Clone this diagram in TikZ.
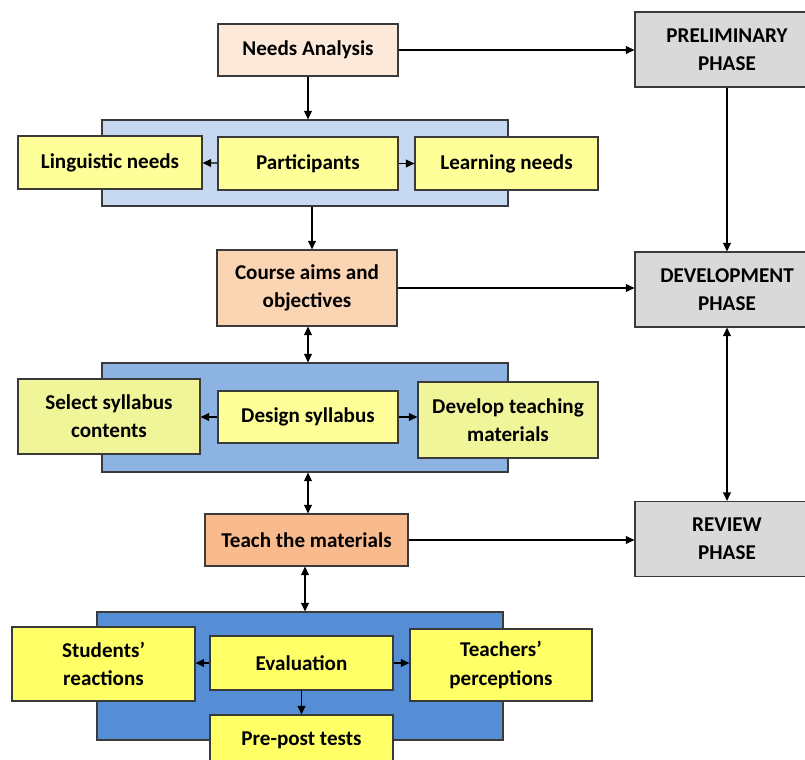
\documentclass[tikz,border=0pt]{standalone}
\usepackage{fontspec}
\setmainfont{Carlito}
\usetikzlibrary{arrows.meta}
\definecolor{peach}{HTML}{FDE9D9}
\definecolor{salmon}{HTML}{FBD4B4}
\definecolor{orng}{HTML}{F9BA8E}
\definecolor{paleblue}{HTML}{C6D9F1}
\definecolor{midblue}{HTML}{8DB3E2}
\definecolor{deepblue}{HTML}{558ED5}
\definecolor{yel}{HTML}{FFFF99}
\definecolor{yelgreen}{HTML}{F0F59A}
\definecolor{yelbright}{HTML}{FFFF66}
\definecolor{phasegrey}{HTML}{D9D9D9}
\definecolor{edge}{HTML}{3A3A3A}
\tikzset{
  box/.style={draw=edge,line width=0.8pt,align=center,inner sep=2pt,
    font=\fontsize{15}{20}\selectfont\bfseries},
  band/.style={draw=edge,line width=0.8pt},
  phase/.style={box,fill=phasegrey,minimum width=4.6cm,minimum height=1.875cm},
  arr/.style={line width=0.8pt,-{Triangle[length=6pt,width=5.5pt]}},
  darr/.style={line width=0.8pt,{Triangle[length=6pt,width=5.5pt]}-{Triangle[length=6pt,width=5.5pt]}}
}
\begin{document}
\begin{tikzpicture}[x=0.025cm,y=-0.025cm]
\useasboundingbox (0,0) rectangle (805,760);

\node[band,fill=paleblue,minimum width=10.15cm,minimum height=2.15cm] (band1) at (305,163) {};
\node[band,fill=midblue,minimum width=10.15cm,minimum height=2.725cm] (band2) at (305,417.5) {};
\node[band,fill=deepblue,minimum width=10.15cm,minimum height=3.2cm] (band3) at (300,676) {};

\node[box,fill=peach,minimum width=4.5cm,minimum height=1.3cm] (needs) at (308,50) {Needs Analysis};
\node[box,fill=yel,minimum width=4.6cm,minimum height=1.325cm] (ling) at (110,162.5) {Linguistic needs};
\node[box,fill=yel,minimum width=4.5cm,minimum height=1.325cm] (part) at (308,163.5) {Participants};
\node[box,fill=yel,minimum width=4.575cm,minimum height=1.325cm] (learn) at (506.5,163.5) {Learning needs};
\node[box,fill=salmon,minimum width=4.5cm,minimum height=1.9cm] (aims) at (307,288) {Course aims and\\objectives};
\node[box,fill=yelgreen,minimum width=4.55cm,minimum height=1.875cm] (select) at (109,416.5) {Select syllabus\\contents};
\node[box,fill=yel,minimum width=4.5cm,minimum height=1.3cm] (design) at (308,417) {Design syllabus};
\node[box,fill=yelgreen,minimum width=4.5cm,minimum height=1.9cm] (develop) at (508,420) {Develop teaching\\materials};
\node[box,fill=orng,minimum width=5.075cm,minimum height=1.3cm] (teach) at (306.5,540) {Teach the materials};
\node[box,fill=yelbright,minimum width=4.575cm,minimum height=1.85cm] (stud) at (103.5,664) {Students’\\reactions};
\node[box,fill=yelbright,minimum width=4.575cm,minimum height=1.35cm] (eval) at (301.5,663) {Evaluation};
\node[box,fill=yelbright,minimum width=4.55cm,minimum height=1.8cm] (teachers) at (501,665) {Teachers’\\perceptions};
\node[box,fill=yelbright,minimum width=4.575cm,minimum height=1.25cm] (tests) at (301.5,740) {Pre-post tests};

\node[phase] (prelim) at (727,49.5) {PRELIMINARY\\PHASE};
\node[phase] (devel) at (727,289.5) {DEVELOPMENT\\PHASE};
\node[phase] (review) at (727,539) {REVIEW\\PHASE};

\draw[arr] (needs.south) -- (needs.south |- band1.north);
\draw[arr] (needs.east) -- (needs.east -| prelim.west);
\draw[arr] (prelim) -- (devel);
\draw[arr] (part) -- (ling);
\draw[arr] (part) -- (learn);
\draw[arr] (band1.south -| 312,0) -- (aims.north -| 312,0);
\draw[arr] (aims.east) -- (aims.east -| devel.west);
\draw[darr] (aims.south -| 308,0) -- (band2.north -| 308,0);
\draw[darr] (devel) -- (review);
\draw[arr] (design) -- (select.east |- design);
\draw[arr] (design) -- (develop.west |- design);
\draw[darr] (band2.south -| 308,0) -- (teach.north -| 308,0);
\draw[arr] (teach.east) -- (teach.east -| review.west);
\draw[darr] (teach.south -| 305,0) -- (band3.north -| 305,0);
\draw[arr] (eval) -- (stud.east |- eval);
\draw[arr] (eval) -- (teachers.west |- eval);
\draw[arr] (eval) -- (tests);
\end{tikzpicture}
\end{document}
